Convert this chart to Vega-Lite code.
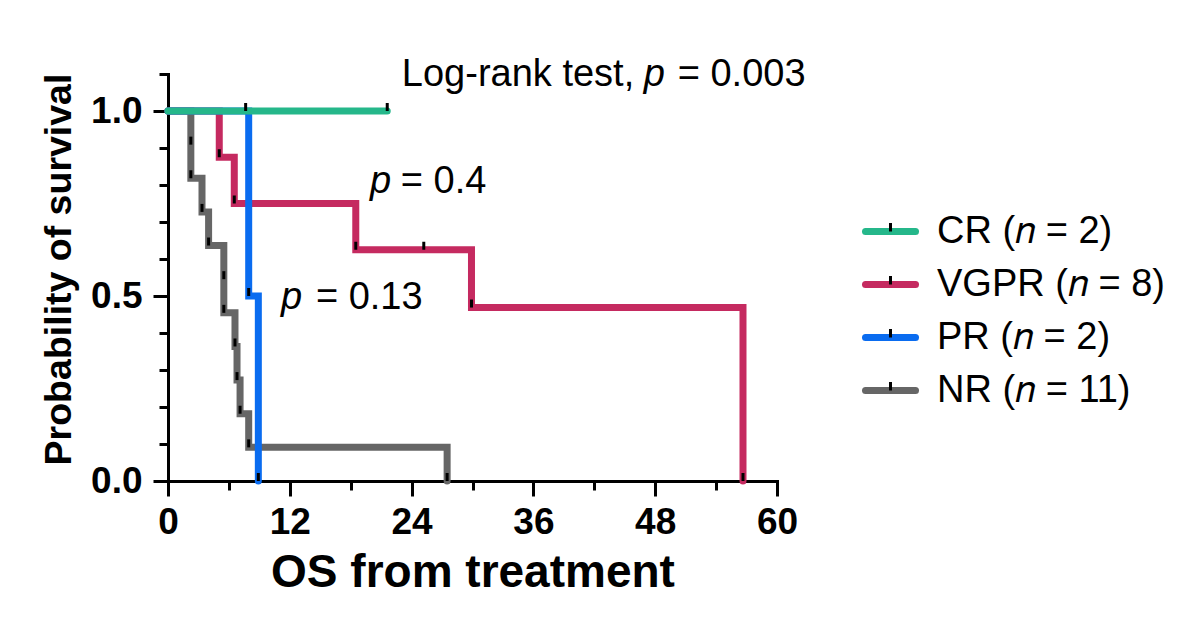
{
  "$schema": "https://vega.github.io/schema/vega-lite/v6.json",
  "width": 609,
  "height": 407,
  "autosize": "none",
  "padding": {"left": 168, "top": 74, "right": 420, "bottom": 156},
  "background": "white",
  "config": {"view": {"stroke": null}, "font": "Liberation Sans"},
  "datasets": {
    "km": [
      {"group": "NR", "t": 0, "s": 1},
      {"group": "NR", "t": 2.25, "s": 0.9091},
      {"group": "NR", "t": 2.25, "s": 0.8182},
      {"group": "NR", "t": 3.35, "s": 0.7273},
      {"group": "NR", "t": 4.0, "s": 0.6364},
      {"group": "NR", "t": 5.5, "s": 0.5455},
      {"group": "NR", "t": 5.5, "s": 0.4545},
      {"group": "NR", "t": 6.6, "s": 0.3636},
      {"group": "NR", "t": 6.8, "s": 0.2727},
      {"group": "NR", "t": 7.1, "s": 0.1818},
      {"group": "NR", "t": 7.95, "s": 0.0909},
      {"group": "NR", "t": 27.5, "s": 0},
      {"group": "VGPR", "t": 0, "s": 1},
      {"group": "VGPR", "t": 5.05, "s": 0.875},
      {"group": "VGPR", "t": 6.53, "s": 0.75},
      {"group": "VGPR", "t": 18.5, "s": 0.625},
      {"group": "VGPR", "t": 25.2, "s": 0.625},
      {"group": "VGPR", "t": 29.9, "s": 0.4688},
      {"group": "VGPR", "t": 56.65, "s": 0},
      {"group": "PR", "t": 0, "s": 1},
      {"group": "PR", "t": 7.95, "s": 0.5},
      {"group": "PR", "t": 8.9, "s": 0},
      {"group": "CR", "t": 0, "s": 1},
      {"group": "CR", "t": 7.65, "s": 1},
      {"group": "CR", "t": 21.6, "s": 1}
    ]
  },
  "data": {"name": "km"},
  "layer": [
    {
      "mark": {"type": "line", "interpolate": "step-after", "strokeWidth": 7, "strokeCap": "round", "strokeJoin": "miter", "clip": false},
      "encoding": {
        "x": {
          "field": "t", "type": "quantitative",
          "scale": {"domain": [0, 60], "nice": false, "zero": false},
          "axis": {
            "values": [0, 6, 12, 18, 24, 30, 36, 42, 48, 54, 60],
            "tickCount": 30,
            "labelExpr": "datum.value % 12 == 0 ? datum.label : ''",
            "tickSize": {"condition": {"test": "datum.value % 12 == 0", "value": 15}, "value": 9},
            "grid": false,
            "domainColor": "black", "domainWidth": 3, "domainCap": "square",
            "tickColor": "black", "tickWidth": 3,
            "labelFontSize": 37, "labelFontWeight": "bold", "labelColor": "black", "labelFont": "Liberation Sans",
            "labelPadding": 8, "labelFlush": false, "labelOverlap": false,
            "title": "OS from treatment", "titleFontSize": 46, "titleFontWeight": "bold", "titleColor": "black", "titleFont": "Liberation Sans",
            "titlePadding": 10
          }
        },
        "y": {
          "field": "s", "type": "quantitative",
          "scale": {"domain": [0, 1.1], "nice": false, "zero": false},
          "axis": {
            "values": [0, 0.1, 0.2, 0.3, 0.4, 0.5, 0.6, 0.7, 0.8, 0.9, 1.0, 1.1],
            "tickCount": 30,
            "format": ".1f",
            "labelExpr": "round(datum.value * 10) % 5 == 0 ? datum.label : ''",
            "tickSize": {"condition": {"test": "round(datum.value * 10) % 5 == 0", "value": 15}, "value": 9},
            "grid": false,
            "domainColor": "black", "domainWidth": 3, "domainCap": "square",
            "tickColor": "black", "tickWidth": 3,
            "labelFontSize": 37, "labelFontWeight": "bold", "labelColor": "black", "labelFont": "Liberation Sans",
            "labelPadding": 11, "labelFlush": false, "labelOverlap": false,
            "title": "Probability of survival", "titleFontSize": 37.5, "titleFontWeight": "bold", "titleColor": "black", "titleFont": "Liberation Sans",
            "titlePadding": 12, "titleY": 195
          }
        },
        "color": {
          "field": "group", "type": "nominal",
          "scale": {"domain": ["CR", "VGPR", "PR", "NR"], "range": ["#25B78A", "#C52A60", "#0A6CF0", "#666666"]},
          "legend": {
            "orient": "none", "legendX": 694, "legendY": 129,
            "title": null,
            "symbolType": "M-1,0H1", "symbolSize": 2500, "symbolStrokeWidth": 7,
            "labelFontSize": 38, "labelFont": "Liberation Sans", "labelColor": "black",
            "labelOffset": 18, "rowPadding": 5, "labelLimit": 400,
            "labelExpr": "datum.label == 'CR' ? 'CR (𝑛 = 2)' : datum.label == 'VGPR' ? 'VGPR (𝑛 = 8)' : datum.label == 'PR' ? 'PR (𝑛 = 2)' : 'NR (𝑛 = 11)'",
            "encode": {"symbols": {"update": {"strokeCap": {"value": "round"}}}}
          }
        },
        "order": [{"field": "t"}, {"field": "s", "sort": "descending"}]
      }
    },
    {
      "transform": [{"filter": "datum.t > 0"}],
      "mark": {"type": "tick", "orient": "vertical", "color": "black", "thickness": 3, "size": 8, "yOffset": -4, "clip": false},
      "encoding": {
        "x": {"field": "t", "type": "quantitative"},
        "y": {"field": "s", "type": "quantitative"},
        "opacity": {
          "field": "group", "type": "ordinal",
          "scale": {"domain": ["CR", "VGPR", "PR", "NR", "-"], "range": [1, 1, 1, 1, 1]},
          "legend": {
            "orient": "none", "legendX": 694, "legendY": 129,
            "title": null,
            "values": ["CR", "VGPR", "PR", "NR"],
            "symbolType": "M-0.06,-0.34H0.06V0H-0.06Z", "symbolSize": 2500, "symbolStrokeWidth": 7,
            "symbolFillColor": "black", "symbolStrokeColor": "transparent", "symbolOpacity": 1,
            "labelFontSize": 38, "labelFont": "Liberation Sans", "labelColor": "black", "labelOpacity": 0,
            "labelOffset": 18, "rowPadding": 5, "labelLimit": 400,
            "labelExpr": "datum.label == 'CR' ? 'CR (𝑛 = 2)' : datum.label == 'VGPR' ? 'VGPR (𝑛 = 8)' : datum.label == 'PR' ? 'PR (𝑛 = 2)' : 'NR (𝑛 = 11)'"
          }
        }
      }
    },
    {
      "data": {"values": [{"label": "Log-rank test,"}]},
      "mark": {"type": "text", "align": "left", "baseline": "alphabetic", "fontSize": 38, "font": "Liberation Sans", "color": "black"},
      "encoding": {"x": {"datum": 23.04}, "y": {"datum": 1.0676}, "text": {"field": "label"}}
    },
    {
      "data": {"values": [{"label": "p"}]},
      "mark": {"type": "text", "align": "left", "baseline": "alphabetic", "fontSize": 38, "font": "Liberation Sans", "fontStyle": "italic", "color": "black"},
      "encoding": {"x": {"datum": 46.87}, "y": {"datum": 1.0676}, "text": {"field": "label"}}
    },
    {
      "data": {"values": [{"label": "= 0.003"}]},
      "mark": {"type": "text", "align": "left", "baseline": "alphabetic", "fontSize": 38, "font": "Liberation Sans", "color": "black"},
      "encoding": {"x": {"datum": 50.22}, "y": {"datum": 1.0676}, "text": {"field": "label"}}
    },
    {
      "data": {"values": [{"label": "p"}]},
      "mark": {"type": "text", "align": "left", "baseline": "alphabetic", "fontSize": 38, "font": "Liberation Sans", "fontStyle": "italic", "color": "black"},
      "encoding": {"x": {"datum": 19.89}, "y": {"datum": 0.7776}, "text": {"field": "label"}}
    },
    {
      "data": {"values": [{"label": "= 0.4"}]},
      "mark": {"type": "text", "align": "left", "baseline": "alphabetic", "fontSize": 38, "font": "Liberation Sans", "color": "black"},
      "encoding": {"x": {"datum": 22.94}, "y": {"datum": 0.7776}, "text": {"field": "label"}}
    },
    {
      "data": {"values": [{"label": "p"}]},
      "mark": {"type": "text", "align": "left", "baseline": "alphabetic", "fontSize": 38, "font": "Liberation Sans", "fontStyle": "italic", "color": "black"},
      "encoding": {"x": {"datum": 11.13}, "y": {"datum": 0.464}, "text": {"field": "label"}}
    },
    {
      "data": {"values": [{"label": "= 0.13"}]},
      "mark": {"type": "text", "align": "left", "baseline": "alphabetic", "fontSize": 38, "font": "Liberation Sans", "color": "black"},
      "encoding": {"x": {"datum": 14.57}, "y": {"datum": 0.464}, "text": {"field": "label"}}
    }
  ]
}
